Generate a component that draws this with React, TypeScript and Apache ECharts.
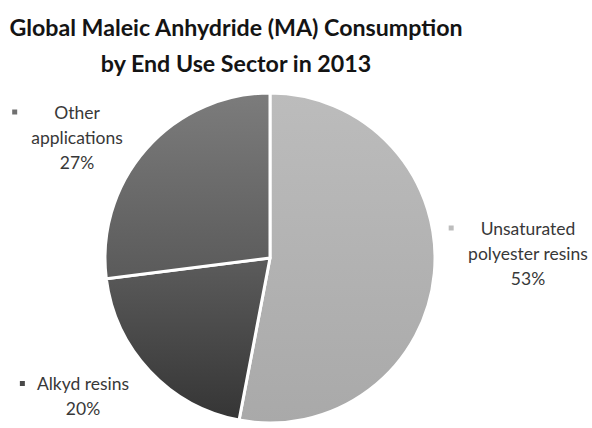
import React, { useEffect, useRef } from "react";
import * as echarts from "echarts";

const categories = ["Unsaturated polyester resins", "Alkyd resins", "Other applications"];
const labelLines = [
  ["Unsaturated", "polyester resins"],
  ["Alkyd resins"],
  ["Other", "applications"],
];
const values = [53, 20, 27];

const sliceTop = ["#bcbcbc", "#5c5c5c", "#7c7c7c"];
const sliceBottom = ["#a9a9a9", "#353535", "#5a5a5a"];
const markerColors = ["#bdbdbd", "#4a4a4a", "#707070"];
const labelPos = [
  [528, 253],
  [83, 396],
  [77, 137],
];
const markerGap = [27, 12, 37];

export default function App() {
  const ref = useRef<HTMLDivElement>(null);
  useEffect(() => {
    document.body.style.margin = "0";
    const chart = echarts.init(ref.current!, undefined, { renderer: "svg" });
    const data = categories.map((name, i) => ({
      name,
      value: values[i],
      itemStyle: {
        color: new echarts.graphic.LinearGradient(0, 0, 0, 1, [
          { offset: 0, color: sliceTop[i] },
          { offset: 1, color: sliceBottom[i] },
        ]),
      },
    }));
    const rich: any = {
      n: { fontFamily: "Lato", fontSize: 17.5, color: "#383838", lineHeight: 25, align: "center" },
    };
    markerColors.forEach((c, i) => {
      rich["m" + i] = { width: 5, height: 5, backgroundColor: c, align: "center" };
      rich["g" + i] = { width: markerGap[i], align: "center" };
      rich["p" + i] = { width: markerGap[i] + 5, align: "center" };
    });
    chart.setOption({
      animation: false,
      title: {
        text: "Global Maleic Anhydride (MA) Consumption\nby End Use Sector in 2013",
        left: 236,
        top: 9,
        padding: 0,
        textAlign: "center",
        textStyle: {
          fontFamily: "Lato",
          fontWeight: "bold",
          fontSize: 23.2,
          lineHeight: 36,
          color: "#141414",
        },
      },
      series: [
        {
          type: "pie",
          center: [270, 258],
          radius: 165,
          startAngle: 90,
          clockwise: true,
          data,
          itemStyle: { borderColor: "#ffffff", borderWidth: 3 },
          label: {
            show: true,
            position: "outside",
            alignTo: "none",
            overflow: "none",
            align: "center",
            formatter: (p: any) => {
              const i = p.dataIndex;
              const lines = labelLines[i];
              const first = `{m${i}|}{g${i}|}{n|${lines[0]}}{p${i}|}`;
              const rest = lines.slice(1).map((l) => `{n|${l}}`);
              return [first, ...rest, `{n|${p.value}%}`].join("\n");
            },
            rich,
          },
          labelLine: { show: false },
          labelLayout: (params: any) => ({
            x: labelPos[params.dataIndex][0],
            y: labelPos[params.dataIndex][1],
            align: "center",
            verticalAlign: "middle",
          }),
          emphasis: { disabled: true },
        },
      ],
    });
    return () => chart.dispose();
  }, []);
  return <div ref={ref} style={{ width: 592, height: 428 }} />;
}
